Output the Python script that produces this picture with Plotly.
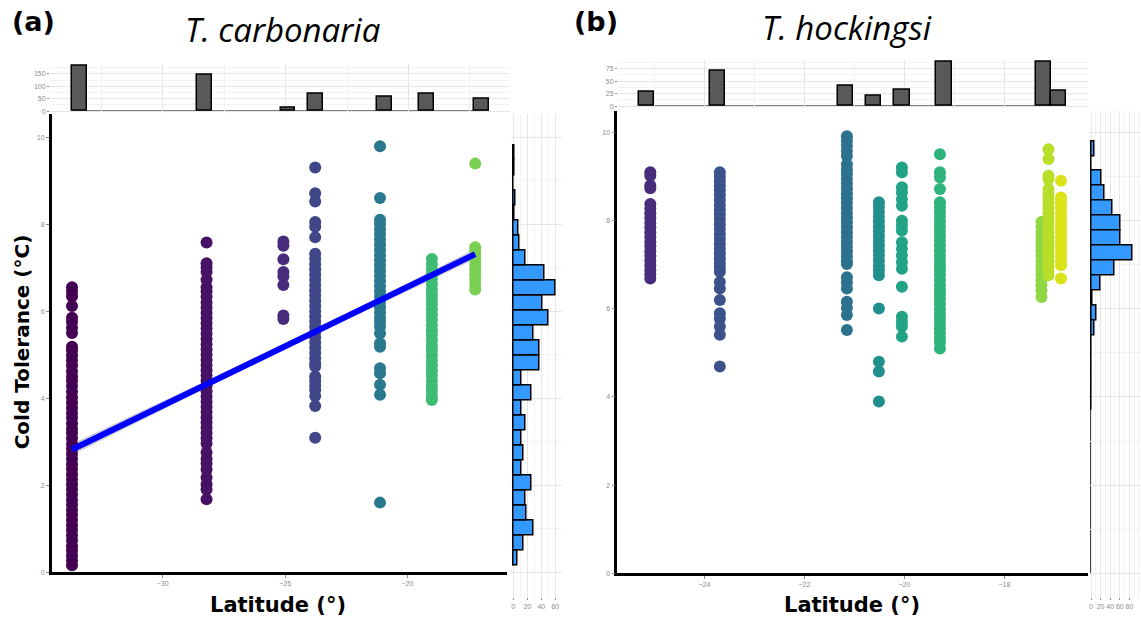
import plotly.graph_objects as go

W, H = 1141, 627

# ---------------- T. carbonaria ----------------
carb_lat = [-33.71, -28.21, -25.07, -23.77, -21.12, -19.0, -17.23]
carb_colors = ["#440154", "#471265", "#462C7A", "#3F4788", "#2A788E", "#3FBC73", "#7AD151"]
carb_ct_1 = [6.55, 6.45, 6.34, 6.12, 5.85, 5.75, 5.62, 5.5, 5.18, 5.1, 4.98, 4.87, 4.75, 4.62,
             4.5, 4.4, 4.28, 4.15, 4.02, 3.9, 3.78, 3.66, 3.55, 3.42, 3.3, 3.2, 3.08, 2.95,
             2.84, 2.72, 2.6, 2.48, 2.37, 2.25, 2.13, 2.02, 1.9, 1.78, 1.66, 1.55, 1.43, 1.32,
             1.2, 1.08, 0.97, 0.85, 0.73, 0.6, 0.5, 0.38, 0.27, 0.16]
carb_ct_2 = [7.58, 7.1, 7.0, 6.9, 6.72, 6.55, 6.45, 6.33, 6.2, 6.08, 5.96, 5.84, 5.72, 5.6,
             5.48, 5.36, 5.24, 5.12, 5.0, 4.88, 4.76, 4.64, 4.52, 4.4, 4.28, 4.16, 4.04, 3.92,
             3.8, 3.68, 3.56, 3.44, 3.32, 3.2, 3.08, 2.96, 2.75, 2.6, 2.5, 2.36, 2.18, 2.02,
             1.9, 1.68]
carb_ct_3 = [7.6, 7.5, 7.19, 6.9, 6.8, 6.6, 5.9, 5.82]
carb_ct_4 = [9.3, 8.71, 8.52, 8.05, 7.94, 7.7, 7.32, 7.2, 7.08, 6.96, 6.84, 6.72, 6.6, 6.48,
             6.36, 6.24, 6.12, 6.0, 5.88, 5.76, 5.64, 5.52, 5.4, 5.28, 5.16, 5.04, 4.92, 4.8,
             4.73, 4.5, 4.4, 4.3, 4.19, 4.05, 3.82, 3.09]
carb_ct_5 = [9.79, 8.6, 8.1, 8.0, 7.89, 7.77, 7.65, 7.53, 7.41, 7.29, 7.17, 7.05, 6.93, 6.81,
             6.69, 6.57, 6.45, 6.33, 6.21, 6.09, 5.97, 5.85, 5.75, 5.64, 5.49, 5.26, 5.18,
             4.69, 4.57, 4.31, 4.08, 1.6]
carb_ct_6 = [7.2, 7.08, 6.96, 6.85, 6.74, 6.62, 6.5, 6.38, 6.27, 6.16, 6.04, 5.92, 5.8, 5.68,
             5.56, 5.45, 5.33, 5.21, 5.1, 4.98, 4.86, 4.75, 4.63, 4.52, 4.4, 4.28, 4.17, 4.05,
             3.96]
carb_ct_7 = [9.39, 7.47, 7.38, 7.28, 7.17, 7.06, 6.95, 6.84, 6.73, 6.62, 6.5]
carb_ct = [carb_ct_1, carb_ct_2, carb_ct_3, carb_ct_4, carb_ct_5, carb_ct_6, carb_ct_7]

# linear fit with its confidence band
carb_fit_lat = [-33.71, -29.6, -25.5, -21.4, -17.23]
carb_fit_ct = [2.82, 3.94, 5.06, 6.17, 7.31]
carb_fit_se = [0.13, 0.09, 0.06, 0.08, 0.12]

# marginal histograms
carb_top_lat = [-33.38, -28.31, -24.90, -23.78, -20.97, -19.26, -17.02]
carb_top_n = [182, 146, 15, 69, 58, 72, 49]
carb_top_binw = 0.59
carb_side_ct = [0.32, 0.67, 1.01, 1.36, 1.70, 2.05, 2.39, 2.74, 3.08, 3.43, 3.77, 4.12, 4.46,
                4.81, 5.15, 5.50, 5.84, 6.19, 6.53, 6.88, 7.22, 7.57, 7.91, 8.26, 8.60, 8.95,
                9.29, 9.64]
carb_side_n = [6, 14, 29, 19, 17, 26, 12, 14, 11, 18, 12, 26, 12, 37, 37, 29, 51, 42, 60, 45,
               18, 9, 7, 1, 3, 0, 2, 1]
carb_side_binw = 0.345

# ---------------- T. hockingsi ----------------
hock_lat = [-25.08, -23.69, -21.15, -20.51, -20.05, -19.29, -17.26, -17.12, -16.87]
hock_colors = ["#482D7C", "#3B528B", "#2C728E", "#21908D", "#22A385", "#2EB37C", "#8FD744",
               "#B8DE29", "#DCE319"]
hock_ct_1 = [9.1, 9.02, 8.8, 8.74, 8.38, 8.28, 8.17, 8.06, 7.95, 7.85, 7.74, 7.63, 7.52, 7.42,
             7.31, 7.2, 7.1, 6.99, 6.88, 6.78, 6.69]
hock_ct_2 = [9.1, 9.0, 8.9, 8.8, 8.69, 8.58, 8.47, 8.36, 8.25, 8.14, 8.03, 7.92, 7.81, 7.7,
             7.59, 7.48, 7.37, 7.26, 7.15, 7.04, 6.94, 6.84, 6.61, 6.46, 6.2, 5.9, 5.78, 5.6,
             5.41, 4.69]
hock_ct_3 = [9.92, 9.82, 9.7, 9.58, 9.47, 9.28, 9.17, 9.06, 8.95, 8.84, 8.73, 8.62, 8.51, 8.4,
             8.29, 8.18, 8.07, 7.96, 7.85, 7.74, 7.63, 7.52, 7.41, 7.3, 7.19, 7.08, 7.02, 6.72,
             6.6, 6.46, 6.16, 6.02, 5.86, 5.52]
hock_ct_4 = [8.42, 8.31, 8.2, 8.09, 7.98, 7.87, 7.76, 7.65, 7.54, 7.43, 7.32, 7.21, 7.1, 6.98,
             6.87, 6.76, 6.01, 4.8, 4.58, 3.9]
hock_ct_5 = [9.21, 9.1, 8.76, 8.64, 8.49, 8.34, 8.0, 7.89, 7.78, 7.51, 7.36, 7.21, 7.06, 6.91,
             6.5, 5.82, 5.71, 5.6, 5.37]
hock_ct_6 = [9.51, 9.1, 8.98, 8.72, 8.42, 8.31, 8.2, 8.09, 7.98, 7.87, 7.76, 7.65, 7.54, 7.43,
             7.32, 7.21, 7.1, 6.99, 6.88, 6.77, 6.66, 6.55, 6.44, 6.33, 6.22, 6.11, 6.0, 5.89,
             5.78, 5.67, 5.56, 5.45, 5.34, 5.23, 5.1]
hock_ct_7 = [7.97, 7.86, 7.75, 7.64, 7.53, 7.42, 7.31, 7.2, 7.09, 6.98, 6.87, 6.76, 6.65, 6.54,
             6.42, 6.27]
hock_ct_8 = [9.62, 9.4, 9.02, 8.95, 8.72, 8.61, 8.5, 8.39, 8.28, 8.17, 8.06, 7.95, 7.84, 7.73,
             7.62, 7.51, 7.4, 7.29, 7.18, 7.07, 6.96, 6.86, 6.76]
hock_ct_9 = [8.91, 8.53, 8.42, 8.31, 8.2, 8.09, 7.98, 7.87, 7.76, 7.65, 7.54, 7.43, 7.32, 7.21,
             7.1, 6.99, 6.69]
hock_ct = [hock_ct_1, hock_ct_2, hock_ct_3, hock_ct_4, hock_ct_5, hock_ct_6, hock_ct_7,
           hock_ct_8, hock_ct_9]

hock_top_lat = [-25.16, -23.74, -21.18, -20.62, -20.05, -19.21, -17.22, -16.92]
hock_top_n = [29, 71, 41, 21, 33, 89, 88, 30]
hock_top_binw = 0.305
hock_side_ct = [9.64, 9.30, 8.96, 8.62, 8.28, 7.94, 7.60, 7.26, 6.92, 6.58, 6.24, 5.90, 5.56,
                5.22, 4.88, 4.54, 4.20, 3.86]
hock_side_n = [8, 1, 22, 29, 44, 62, 62, 86, 48, 20, 4, 11, 8, 2, 1, 2, 0, 1]
hock_side_binw = 0.34


def px_x(a, b):
    return [a / W, b / W]


def px_y(bottom, top):
    return [1 - bottom / H, 1 - top / H]


TICK_FONT = dict(family="Liberation Sans", size=7, color="#8c8c8c")
GRID = "#e6e6e6"
MINOR_GRID = "#f3f3f3"
MARKER_SIZE = 12
OUTLINE = dict(color="black", width=1.5)

fig = go.Figure()

# ---- panel (a) scatter + fit ----
fig.add_trace(go.Scatter(
    x=carb_fit_lat + carb_fit_lat[::-1],
    y=[c + s for c, s in zip(carb_fit_ct, carb_fit_se)]
      + [c - s for c, s in zip(carb_fit_ct, carb_fit_se)][::-1],
    mode="lines", fill="toself", fillcolor="rgba(150,150,150,0.45)", line=dict(width=0),
    hoverinfo="skip", xaxis="x", yaxis="y"))
for lat, vals, col in zip(carb_lat, carb_ct, carb_colors):
    fig.add_trace(go.Scatter(x=[lat] * len(vals), y=vals, mode="markers",
                             marker=dict(size=MARKER_SIZE, color=col, line=dict(width=0)),
                             xaxis="x", yaxis="y"))
fig.add_trace(go.Scatter(x=carb_fit_lat, y=carb_fit_ct, mode="lines",
                         line=dict(color="#0000FF", width=6), xaxis="x", yaxis="y"))

# ---- panel (a) marginal histograms ----
fig.add_trace(go.Bar(x=carb_top_lat, y=carb_top_n, width=carb_top_binw,
                     marker=dict(color="#595959", line=OUTLINE), xaxis="x2", yaxis="y2"))
fig.add_trace(go.Bar(y=carb_side_ct, x=carb_side_n, width=carb_side_binw, orientation="h",
                     marker=dict(color="#3399FF", line=OUTLINE), xaxis="x3", yaxis="y3"))

# ---- panel (b) scatter ----
for lat, vals, col in zip(hock_lat, hock_ct, hock_colors):
    fig.add_trace(go.Scatter(x=[lat] * len(vals), y=vals, mode="markers",
                             marker=dict(size=MARKER_SIZE, color=col, line=dict(width=0)),
                             xaxis="x4", yaxis="y4"))

# ---- panel (b) marginal histograms ----
fig.add_trace(go.Bar(x=hock_top_lat, y=hock_top_n, width=hock_top_binw,
                     marker=dict(color="#595959", line=OUTLINE), xaxis="x5", yaxis="y5"))
fig.add_trace(go.Bar(y=hock_side_ct, x=hock_side_n, width=hock_side_binw, orientation="h",
                     marker=dict(color="#3399FF", line=OUTLINE), xaxis="x6", yaxis="y6"))

# zero-count bins drawn as a baseline
shapes = [
    dict(type="line", xref="x2", yref="y2",
         x0=carb_top_lat[0] - carb_top_binw / 2, x1=carb_top_lat[-1] + carb_top_binw / 2,
         y0=0, y1=0, line=OUTLINE, layer="below"),
    dict(type="line", xref="x3", yref="y3", x0=0, x1=0,
         y0=carb_side_ct[0] - carb_side_binw / 2, y1=carb_side_ct[-1] + carb_side_binw / 2,
         line=OUTLINE, layer="below"),
    dict(type="line", xref="x5", yref="y5",
         x0=hock_top_lat[0] - hock_top_binw / 2, x1=hock_top_lat[-1] + hock_top_binw / 2,
         y0=0, y1=0, line=OUTLINE, layer="below"),
    dict(type="line", xref="x6", yref="y6", x0=0, x1=0,
         y0=0, y1=hock_side_ct[0] + hock_side_binw / 2,
         line=OUTLINE, layer="below"),
]

main_axis = dict(showline=True, linecolor="black", linewidth=2.5, showgrid=False,
                 zeroline=False, ticks="outside", ticklen=3, tickcolor="#8c8c8c",
                 tickfont=TICK_FONT)
hist_axis = dict(showline=False, zeroline=False, showgrid=True, gridcolor=GRID, gridwidth=1,
                 tickfont=TICK_FONT, tickcolor="#8c8c8c", ticklen=2, tickangle=0)

fig.update_layout(
    width=W, height=H, margin=dict(l=0, r=0, t=0, b=0),
    paper_bgcolor="white", plot_bgcolor="white", showlegend=False, bargap=0,
    shapes=shapes,
    # (a) main
    xaxis=dict(main_axis, domain=px_x(51.7, 507), range=[-34.54, -15.93],
               tickvals=[-30, -25, -20], anchor="y"),
    yaxis=dict(main_axis, domain=px_y(575, 115), range=[0, 10.52],
               tickvals=[0, 2, 4, 6, 8, 10], anchor="x"),
    # (a) top histogram
    xaxis2=dict(hist_axis, domain=px_x(50, 510), range=[-34.59, -15.87], dtick=5, tick0=0,
                showticklabels=False, ticks="", anchor="y2",
                minor=dict(dtick=2.5, tick0=0, showgrid=True, gridcolor=MINOR_GRID)),
    yaxis2=dict(hist_axis, domain=px_y(114, 64), range=[-9.2, 190.8],
                tickvals=[0, 50, 100, 150], ticks="outside", anchor="x2",
                minor=dict(dtick=25, tick0=0, showgrid=True, gridcolor=MINOR_GRID)),
    # (a) side histogram
    xaxis3=dict(hist_axis, domain=px_x(510.5, 562), range=[-4, 69.6],
                tickvals=[0, 20, 40, 60], ticks="outside", anchor="y3",
                minor=dict(dtick=10, tick0=0, showgrid=True, gridcolor=MINOR_GRID)),
    yaxis3=dict(hist_axis, domain=px_y(600, 115), range=[-0.572, 10.52], dtick=2, tick0=0,
                showticklabels=False, ticks="", anchor="x3",
                minor=dict(dtick=1, tick0=0, showgrid=True, gridcolor=MINOR_GRID)),
    # (b) main
    xaxis4=dict(main_axis, domain=px_x(617.3, 1088), range=[-25.74, -16.33],
                tickvals=[-24, -22, -20, -18], anchor="y4"),
    yaxis4=dict(main_axis, domain=px_y(576, 112), range=[0, 10.48],
                tickvals=[0, 2, 4, 6, 8, 10], anchor="x4"),
    # (b) top histogram
    xaxis5=dict(hist_axis, domain=px_x(618, 1088), range=[-25.73, -16.33], dtick=2, tick0=0,
                showticklabels=False, ticks="", anchor="y5",
                minor=dict(dtick=1, tick0=0, showgrid=True, gridcolor=MINOR_GRID)),
    yaxis5=dict(hist_axis, domain=px_y(109, 60), range=[-4.56, 92.7],
                tickvals=[0, 25, 50, 75], ticks="outside", anchor="x5",
                minor=dict(dtick=12.5, tick0=0, showgrid=True, gridcolor=MINOR_GRID)),
    # (b) side histogram
    xaxis6=dict(hist_axis, domain=px_x(1088.5, 1141), range=[-5.2, 104.2],
                tickvals=[0, 20, 40, 60, 80], ticks="outside", anchor="y6",
                minor=dict(dtick=10, tick0=0, showgrid=True, gridcolor=MINOR_GRID)),
    yaxis6=dict(hist_axis, domain=px_y(600, 112), range=[-0.542, 10.48], dtick=2, tick0=0,
                showticklabels=False, ticks="", anchor="x6",
                minor=dict(dtick=1, tick0=0, showgrid=True, gridcolor=MINOR_GRID)),
)


def note(text, x, y, size, bold=False, italic=False, family="DejaVu Sans", angle=0):
    if bold:
        text = "<b>" + text + "</b>"
    if italic:
        text = "<i>" + text + "</i>"
    fig.add_annotation(text=text, x=x / W, y=1 - y / H, xref="paper", yref="paper",
                       xanchor="center", yanchor="middle", showarrow=False, textangle=angle,
                       font=dict(family=family, size=size, color="black"))


note("(a)", 33, 22, 27, bold=True)
note("T. carbonaria", 282, 30, 33, italic=True, family="Open Sans")
note("(b)", 596, 22, 27, bold=True)
note("T. hockingsi", 847, 28, 33, italic=True, family="Open Sans")
note("Latitude (°)", 278, 608, 21, bold=True)
note("Latitude (°)", 852, 608, 21, bold=True)
note("Cold Tolerance (°C)", 22, 344, 20, bold=True, angle=-90)

fig.write_html("out.html")
